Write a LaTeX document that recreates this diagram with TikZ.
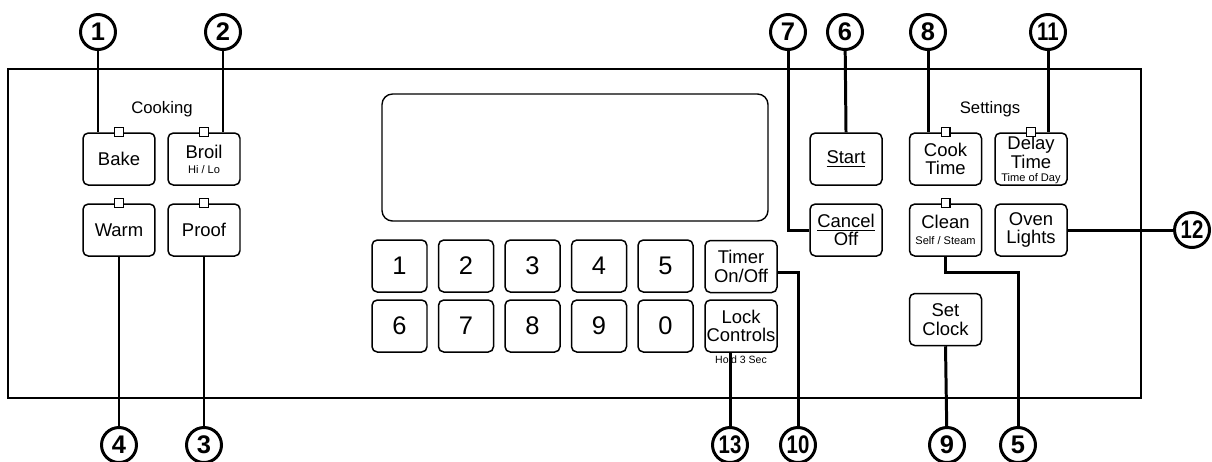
\documentclass[tikz,border=0pt]{standalone}
\usepackage{fontspec}
\setmainfont{Liberation Sans}
\usepackage{graphicx}
\usetikzlibrary{calc}
\tikzset{
  btn/.style={draw,line width=.85pt,rounded corners=3pt,minimum width=1.44cm,minimum height=1.04cm,
    align=center,inner sep=0pt,font=\fontsize{10.5}{10.5}\selectfont},
  key/.style={btn,minimum width=1.1cm,font=\fontsize{14.5}{14.5}\selectfont},
  lamp/.style={draw,fill=white,line width=.7pt,minimum size=5pt,inner sep=0pt},
  callout/.style={circle,draw,line width=1.7pt,minimum size=.7cm,inner sep=0pt,fill=white,
    font=\bfseries\fontsize{14.5}{14.5}\selectfont},
  lead/.style={line width=1.7pt}
}
\newcommand{\sm}[1]{{\fontsize{6.3}{6.5}\selectfont #1}}
\newcommand{\nn}[1]{\scalebox{.8}[1]{#1}}
\begin{document}
\begin{tikzpicture}[x=0.02cm,y=-0.02cm]
\useasboundingbox (0,0) rectangle (1212,461);
% panel and display
\draw[line width=.6pt] (8,69) rectangle (1141,398);
\draw[line width=.8pt,rounded corners=6pt] (382,94) rectangle (768,221);
\node[font=\fontsize{9.5}{9.5}\selectfont] at (162,109) {Cooking};
\node[font=\fontsize{9.5}{9.5}\selectfont] at (990,109) {Settings};
% cooking buttons
\node[btn] (bake) at (119,159) {Bake};
\node[btn] (broil) at (204,159) {Broil\\[-2pt]\sm{Hi / Lo}};
\node[btn] (warm) at (119,230) {Warm};
\node[btn] (proof) at (204,230) {Proof};
% keypad
\foreach \d [count=\i] in {1,...,5} \node[key] (k\d) at ({333+66.5*\i},266) {\d};
\foreach \d [count=\i] in {6,7,8,9,0} \node[key] (k\d) at ({333+66.5*\i},326) {\d};
\node[btn] (timer) at (741,266.5) {Timer\\On/Off};
\node[btn] (lock) at (741,326) {Lock\\Controls};
\node[font=\fontsize{6}{6}\selectfont] (hold) at (741,360) {Hold 3 Sec};
% start / cancel
\node[btn] (start) at (846,159) {\underline{Start}};
\node[btn] (cancel) at (846,230) {\underline{Cancel}\\Off};
% settings buttons
\node[btn] (cook) at (945.5,159) {Cook\\Time};
\node[btn] (delay) at (1031,159) {};
\node[align=center,inner sep=0pt,font=\fontsize{10.5}{7.8}\selectfont] (delaytxt) at (1031,160)
  {Delay\\Time\\[-0.5pt]\sm{Time of Day}};
\node[btn] (clean) at (945.5,230) {Clean\\[-1pt]\sm{Self / Steam}};
\node[btn] (oven) at (1031,230) {Oven\\Lights};
\node[btn] (clock) at (945.5,319.5) {Set\\Clock};
\foreach \b in {bake,broil,warm,proof,cook,delay,clean}
  \node[lamp] at (\b.north) {};
% callouts
\node[callout] (c1) at (98,32) {1};
\node[callout] (c2) at (223,32) {2};
\node[callout] (c7) at (788,32) {7};
\node[callout] (c6) at (845,32) {6};
\node[callout] (c8) at (928,32) {8};
\node[callout] (c11) at (1048,32) {\nn{11}};
\node[callout] (c12) at (1192,230) {\nn{12}};
\node[callout] (c4) at (119,445) {4};
\node[callout] (c3) at (204,445) {3};
\node[callout] (c13) at (730,445) {\nn{13}};
\node[callout] (c10) at (798,445) {\nn{10}};
\node[callout] (c9) at (947,445) {9};
\node[callout] (c5) at (1018,445) {5};
\coordinate (j5) at (1018,272);
% leaders
\draw[lead] (c1) -- (c1 |- bake.north);
\draw[lead] (c2) -- (c2 |- broil.north);
\draw[lead] (c4) -- (warm.south);
\draw[lead] (c3) -- (proof.south);
\draw[lead] (c6) -- (start.north);
\draw[lead] (c7) |- (cancel.west);
\draw[lead] (c8) -- (c8 |- cook.north);
\draw[lead] (c11) -- (c11 |- delay.north);
\draw[lead] (oven.east) -- (c12);
\draw[lead] (timer.east |- j5) -| (c10);
\draw[lead] (c13) -- (c13 |- lock.south);
\draw[lead] (clock.south) -- (c9);
\draw[lead] (clean.south) |- (j5) -- (c5);
\end{tikzpicture}
\end{document}
